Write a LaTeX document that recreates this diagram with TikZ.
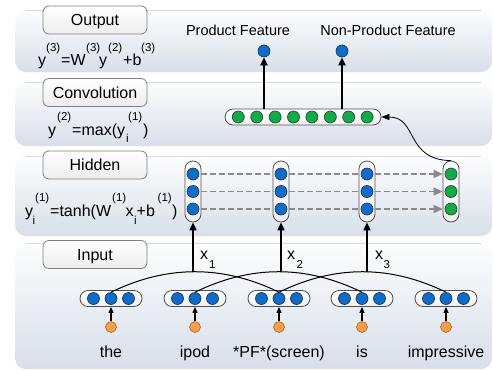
\documentclass[tikz,border=0pt]{standalone}
\usepackage{fontspec}
\setmainfont{Liberation Sans}
\usetikzlibrary{arrows.meta}
\definecolor{panelbot}{RGB}{216,223,234}
\definecolor{paneltop}{RGB}{252,253,254}
\definecolor{panelline}{RGB}{214,219,226}
\definecolor{bluec}{RGB}{18,108,198}
\definecolor{blueb}{RGB}{12,48,96}
\definecolor{greenc}{RGB}{24,168,76}
\definecolor{greenb}{RGB}{12,76,36}
\definecolor{orangec}{RGB}{246,158,72}
\definecolor{orangeb}{RGB}{150,88,34}
\definecolor{dashgray}{RGB}{138,138,138}
\definecolor{pillb}{RGB}{80,80,80}
\definecolor{lblb}{RGB}{128,128,128}
\begin{document}
\begin{tikzpicture}[x=1pt,y=-1pt,
  panel/.style={rounded corners=11pt, top color=paneltop, bottom color=panelbot, draw=none},
  lbl/.style={draw=lblb, line width=0.8pt, rounded corners=6pt, top color=white, bottom color=gray!14,
    minimum width=104pt, minimum height=28pt, inner sep=0pt, text height=11.5pt, text depth=0pt,
    font=\fontsize{16}{18}\selectfont},
  pill/.style={draw=pillb, line width=0.8pt, rounded corners=8pt, top color=white, bottom color=gray!12,
    inner sep=0pt},
  hpill/.style={pill, minimum width=62pt, minimum height=16pt},
  vpill/.style={pill, minimum width=16pt, minimum height=61pt},
  bc/.style={circle, fill=bluec, draw=blueb, line width=0.6pt, minimum size=12pt, inner sep=0pt},
  gc/.style={circle, fill=greenc, draw=greenb, line width=0.6pt, minimum size=12pt, inner sep=0pt},
  oc/.style={circle, fill=orangec, draw=orangeb, line width=0.5pt, minimum size=11pt, inner sep=0pt},
  ft/.style={font=\fontsize{14.5}{16}\selectfont, inner sep=0pt, anchor=base},
  wt/.style={font=\fontsize{16}{18}\selectfont, inner sep=0pt, anchor=base},
  mt/.style={font=\fontsize{16}{18}\selectfont, inner sep=0pt, anchor=base west},
  st/.style={font=\fontsize{11.5}{13}\selectfont, inner sep=0pt, anchor=base west},
  bigarrow/.style={line width=1.8pt, -{Triangle[length=8pt,width=7pt]}},
  smallarrow/.style={line width=1.2pt, -{Triangle[length=6pt,width=5pt]}},
  thinarrow/.style={line width=0.8pt, -{Triangle[length=8pt,width=6pt]}},
  curvel/.style={line width=1pt},
  dsh/.style={draw=dashgray, line width=1.4pt, dash pattern=on 6pt off 3pt},
  dsharrow/.style={dsh, -{Triangle[length=9pt,width=8pt,fill=dashgray]}}
]
\useasboundingbox (0,0) rectangle (493,370);
\fill[white] (0,0) rectangle (493,370);

% panels
\path[panel] (15,10) rectangle (492,72);
\path[panel] (15,82) rectangle (492,146);
\path[panel] (15,156) rectangle (492,236);
\path[panel] (15,243) rectangle (492,369);
\foreach \yy in {10,82,156,243} { \draw[panelline, line width=0.7pt] (26,\yy) -- (481,\yy); }

% label boxes
\node[lbl] (lout) at (95,20) {Output};
\node[lbl] (lconv) at (95,92.5) {Convolution};
\node[lbl] (lhid) at (95,165) {Hidden};
\node[lbl] (linp) at (95,254.5) {Input};

% formulas
\node[mt] (f1a) at (38,65.5) {y};
\node[st] (f1b) at (46,51) {(3)};
\node[mt] (f1c) at (61,65.5) {=W};
\node[st] (f1d) at (86,51) {(3)};
\node[mt] (f1e) at (99,65.5) {y};
\node[st] (f1f) at (108,51) {(2)};
\node[mt] (f1g) at (123,65.5) {+b};
\node[st] (f1h) at (141,51) {(3)};

\node[mt] (f2a) at (48,135.7) {y};
\node[st] (f2b) at (57,120) {(2)};
\node[mt] (f2c) at (72,135.7) {=max(y};
\node[st] (f2d) at (126,142.7) {i};
\node[st] (f2e) at (128,120) {(1)};
\node[mt] (f2f) at (143,135.7) {)};

\node[mt] (f3a) at (25,216.7) {y};
\node[st] (f3b) at (32.5,224) {i};
\node[st] (f3c) at (35,201.7) {(1)};
\node[mt] (f3d) at (50,216.7) {=tanh(W};
\node[st] (f3e) at (112,201.7) {(1)};
\node[mt] (f3f) at (125.5,216.7) {x};
\node[st] (f3g) at (133.8,224) {i};
\node[mt] (f3h) at (136.5,216.7) {+b};
\node[st] (f3i) at (157.5,201.7) {(1)};
\node[mt] (f3j) at (172,216.7) {)};

% output layer
\node[ft] (pf) at (238,35) {Product Feature};
\node[ft] (npf) at (388,35) {Non-Product Feature};
\node[bc] (o1) at (264,51) {};
\node[bc] (o2) at (342,51) {};

% convolution layer
\node[pill, minimum width=156pt, minimum height=16pt] (cv) at (303,117) {};
\foreach \i in {0,...,7} { \node[gc] (c\i) at (238.3+18.4*\i,117) {}; }
\draw[bigarrow] (cv.north -| o1) -- (o1);
\draw[bigarrow] (cv.north -| o2) -- (o2);

% hidden layer
\foreach \n/\xx in {1/193,2/281,3/367} {
  \node[vpill] (hp\n) at (\xx,191.5) {};
  \node[bc] (h\n a) at (\xx,174) {};
  \node[bc] (h\n b) at (\xx,191.5) {};
  \node[bc] (h\n c) at (\xx,209) {};
}
\node[vpill] (hp4) at (451,191.5) {};
\node[gc] (h4a) at (451,174) {};
\node[gc] (h4b) at (451,191.5) {};
\node[gc] (h4c) at (451,209) {};
\foreach \r in {a,b,c} {
  \draw[dsh, shorten <=2pt, shorten >=2pt] (h1\r) -- (h2\r);
  \draw[dsh, shorten <=2pt, shorten >=2pt] (h2\r) -- (h3\r);
  \draw[dsharrow, shorten <=2pt, shorten >=2pt] (h3\r) -- (h4\r);
}
\draw[thinarrow] (hp4.north) .. controls (405,160) and (418,117) .. (cv.east);

% input layer
\foreach \n/\xx/\w in {1/111/the,2/195/ipod,3/279/*PF*(screen),4/362/is,5/446/impressive} {
  \node[hpill] (w\n) at (\xx,298.5) {};
  \node[bc] (w\n l) at (\xx-17.5,298.5) {};
  \node[bc] (w\n m) at (\xx,298.5) {};
  \node[bc] (w\n r) at (\xx+17.5,298.5) {};
  \node[oc] (e\n) at (\xx,327) {};
  \node[wt] (t\n) at (\xx,357.3) {\w};
  \draw[smallarrow] (e\n) -- (w\n);
}
\draw[curvel] (w1m.north) .. controls +(56,-27.3) and +(-56,-27.3) .. (w3m.north) coordinate[pos=0.5] (p1);
\draw[curvel] (w2m.north) .. controls +(56,-27.3) and +(-56,-27.3) .. (w4m.north) coordinate[pos=0.5] (p2);
\draw[curvel] (w3m.north) .. controls +(56,-27.3) and +(-56,-27.3) .. (w5m.north) coordinate[pos=0.5] (p3);
\draw[bigarrow] (p1 -| hp1) -- (hp1.south);
\draw[bigarrow] (p2 -| hp2) -- (hp2.south);
\draw[bigarrow] (p3 -| hp3) -- (hp3.south);

\node[mt] (x1) at (200,259.3) {x};
\node[st] (x1s) at (209,268.3) {1};
\node[mt] (x2) at (287,259.3) {x};
\node[st] (x2s) at (296.5,268.3) {2};
\node[mt] (x3) at (375,259.3) {x};
\node[st] (x3s) at (383.5,268.3) {3};
\end{tikzpicture}
\end{document}
